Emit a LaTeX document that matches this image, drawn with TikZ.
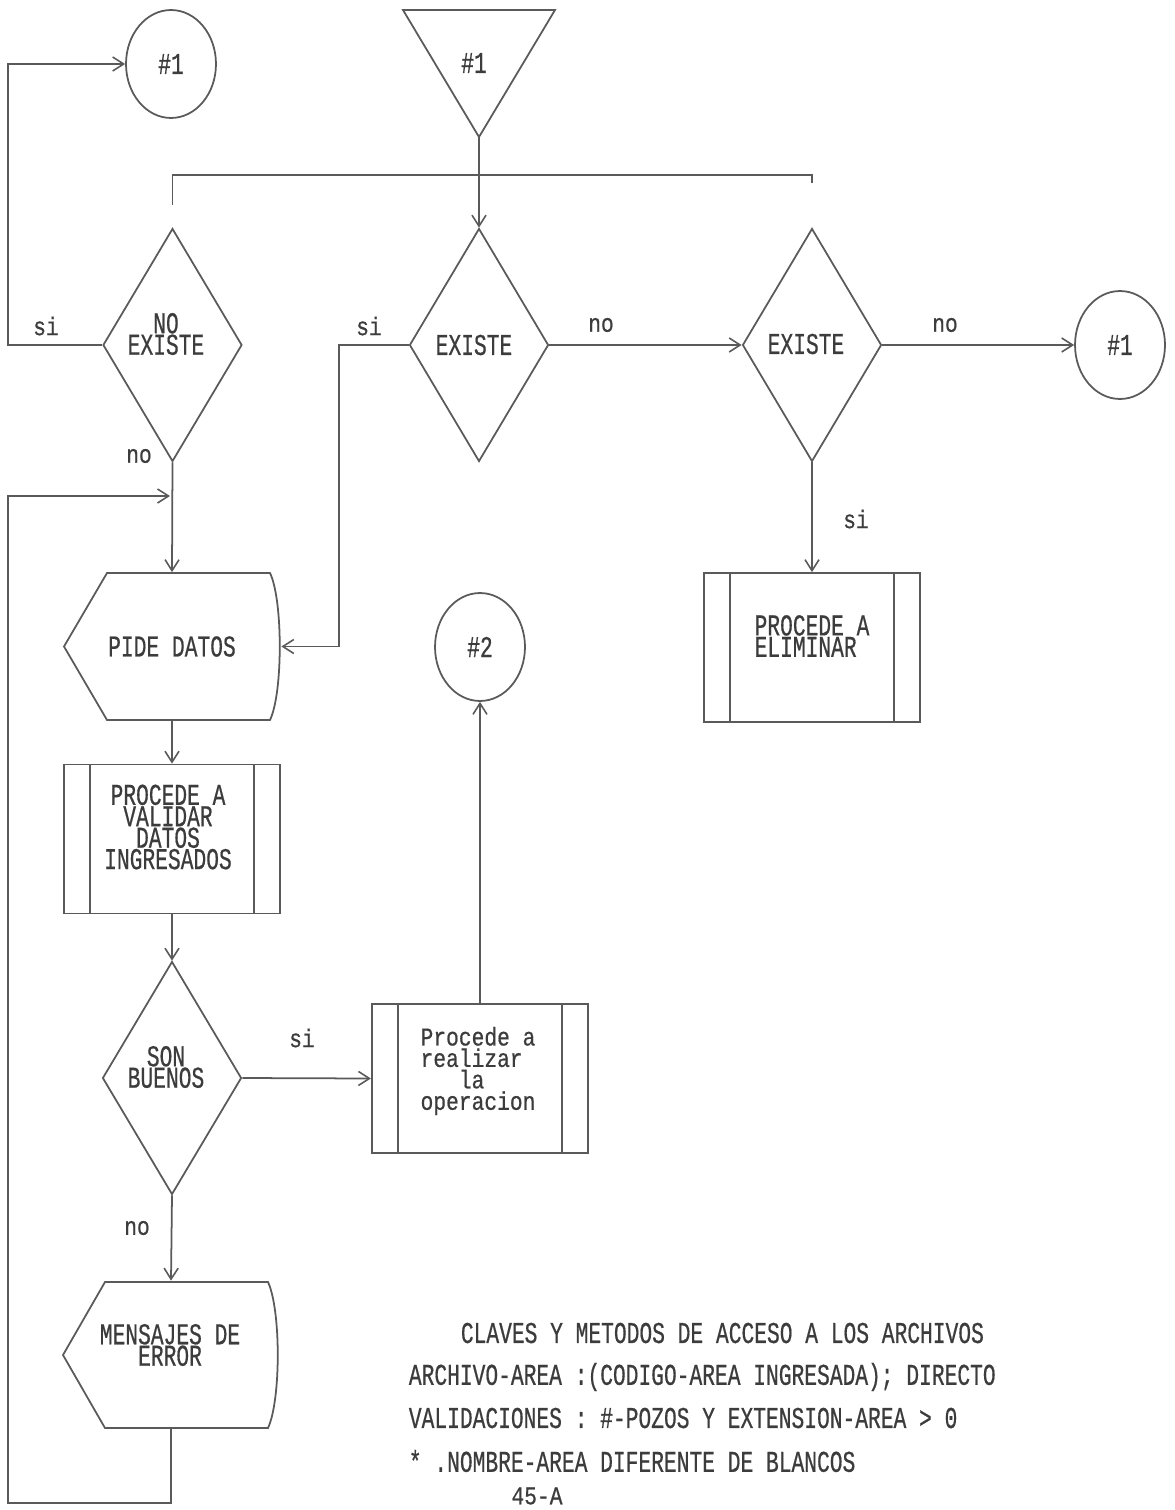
\documentclass[tikz,border=0pt]{standalone}
\usepackage{fontspec}
\usepackage{graphicx}
\newfontfamily\dotmono[FakeBold=0.7]{Liberation Mono}
\usetikzlibrary{shapes.geometric,arrows.meta}
\definecolor{ink}{RGB}{90,90,90}
\definecolor{txt}{RGB}{60,60,60}
\newcommand{\tallt}[1]{\scalebox{1}[1.42]{#1}}
\newcommand{\tallr}[1]{\scalebox{1}[1.2]{#1}}
\begin{document}
\begin{tikzpicture}[x=0.02cm,y=-0.02cm,line width=1pt,color=ink,
  >={Straight Barb[length=2.2mm,width=2.8mm,line width=0.9pt]},
  lbl/.style={text=txt,font=\dotmono\fontsize{12.1}{12.2}\selectfont,inner sep=0pt,align=center},
  conn/.style={ellipse,draw=ink,minimum width=1.8cm,minimum height=2.16cm,inner sep=0pt,lbl},
  dec/.style={diamond,draw=ink,minimum width=2.78cm,minimum height=4.66cm,inner sep=0pt},
  predef/.style={rectangle,draw=ink,minimum width=4.33cm,minimum height=2.98cm,inner sep=0pt,
    path picture={\draw[ink,line width=1pt]
      ([xshift=0.53cm]path picture bounding box.north west) -- ([xshift=0.53cm]path picture bounding box.south west)
      ([xshift=-0.53cm]path picture bounding box.north east) -- ([xshift=-0.53cm]path picture bounding box.south east);}},
  dispbox/.style={rectangle,minimum width=4.34cm,minimum height=2.94cm,inner sep=0pt,lbl}
]
\useasboundingbox (0,0) rectangle (1174,1510);
\fill[white] (0,0) rectangle (1174,1510);

% ---- shapes ----
\node[conn] (c1) at (171,64) {\tallt{\#1}};
\draw (403,10) -- (555,10) -- (479,137) -- cycle;
\coordinate (tapex) at (479,137);
\node[lbl] (tlab) at (474,63) {\tallt{\#1}};

\node[dec] (d1) at (172.5,345) {};
\node[lbl] (d1t) at (166,334) {\tallt{NO}\\\tallt{EXISTE}};
\node[dec] (d2) at (479,345) {};
\node[lbl] (d2t) at (474,345) {\tallt{EXISTE}};
\node[dec] (d3) at (812,345) {};
\node[lbl] (d3t) at (806,344) {\tallt{EXISTE}};
\node[conn] (c2) at (1120,345) {\tallt{\#1}};

\node[predef] (elim) at (812,647.5) {};
\node[lbl,align=left] (elimt) at (812,636) {\tallt{PROCEDE A}\\\tallt{ELIMINAR}};

\node[dispbox] (pide) at (172,646.5) {\tallt{PIDE DATOS}};
\draw (64,646.5) -- (107,573) -- (270,573) .. controls (283,600) and (283,693) .. (270,720) -- (107,720) -- cycle;

\node[conn] (c3) at (480,647) {\tallt{\#2}};

\node[predef] (val) at (172,839) {};
\node[lbl] (valt) at (168,827) {\tallt{PROCEDE A}\\\tallt{VALIDAR}\\\tallt{DATOS}\\\tallt{INGRESADOS}};

\node[dec] (d4) at (172,1078) {};
\node[lbl] (d4t) at (166,1067) {\tallt{SON}\\\tallt{BUENOS}};

\node[predef] (oper) at (480,1078.5) {};
\node[lbl,align=left] (opert) at (478,1071) {\tallr{Procede a}\\\tallr{realizar}\\\tallr{\phantom{xxx}la}\\\tallr{operacion}};

\node[dispbox] (mens) at (171,1355) {};
\draw (63,1355) -- (105,1282) -- (268,1282) .. controls (281,1310) and (281,1400) .. (268,1428) -- (105,1428) -- cycle;
\node[lbl] (menst) at (170,1345) {\tallt{MENSAJES DE}\\\tallt{ERROR}};

% ---- connectors ----
\coordinate (lx) at (8,0);
\draw[->] (d1.west) -- (d1.west -| lx) |- (c1.west);
\node[lbl] at (46,326) {\tallr{si}};

\coordinate (barL) at (172.5,175);
\coordinate (barR) at (812,175);
\coordinate (barM) at (479,175);
\coordinate (stubL) at (172.5,205);
\coordinate (stubR) at (812,183);
\draw (tapex) -- (barM);
\draw (stubL) -- (barL) -- (barR) -- (stubR);
\draw[->] (barM) -- (d2.north);

\draw[->] (d2.east) -- (d3.west);
\node[lbl] at (601,325) {\tallr{no}};
\draw[->] (d3.east) -- (c2.west);
\node[lbl] at (945,325) {\tallr{no}};
\draw[->] (d3.south) -- (elim.north);
\node[lbl] at (856,519) {\tallr{si}};

\coordinate (vx) at (339,0);
\draw[->] (d2.west) -- (d2.west -| vx) |- (pide.east);
\node[lbl] at (369,326) {\tallr{si}};

\draw[->] (d1.south) -- (pide.north);
\node[lbl] at (139,456) {\tallr{no}};

\draw[->] (pide.south) -- (val.north);
\draw[->] (val.south) -- (d4.north);
\draw[->] (d4.east) -- (oper.west);
\node[lbl] at (302,1038) {\tallr{si}};
\draw[->] (oper.north) -- (c3.south);
\draw[->] (d4.south) -- (mens.north);
\node[lbl] at (137,1228) {\tallr{no}};

\coordinate (lb) at (8,1503);
\coordinate (lt) at (8,496);
\coordinate (lp) at (170,496);
\draw[->] (mens.south) |- (lb) -- (lt) -- (lp);

% ---- notes ----
\node[lbl,anchor=west] (t1) at (460,1333) {\tallt{CLAVES Y METODOS DE ACCESO A LOS ARCHIVOS}};
\node[lbl,anchor=west] (t2) at (408,1377) {\tallt{ARCHIVO-AREA :(CODIGO-AREA INGRESADA); DIRECTO}};
\node[lbl,anchor=west] (t3) at (408,1418) {\tallt{VALIDACIONES : \#-POZOS Y EXTENSION-AREA > 0}};
\node[lbl,anchor=west] (t4) at (408,1461) {\tallt{* .NOMBRE-AREA DIFERENTE DE BLANCOS}};
\node[lbl] (pg) at (537,1496) {\tallr{45-A}};
\end{tikzpicture}
\end{document}
